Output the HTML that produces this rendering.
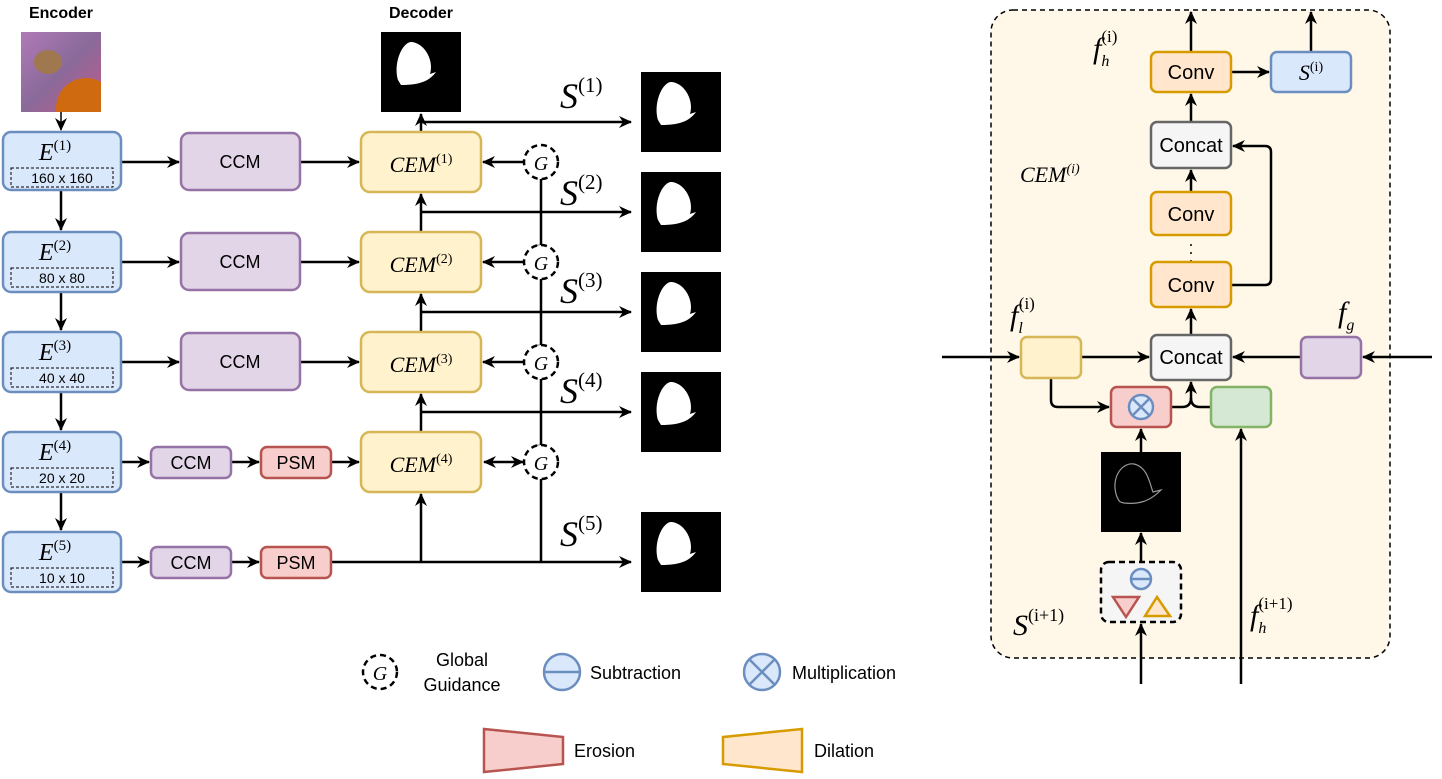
<!DOCTYPE html>
<html><head><meta charset="utf-8"><style>
body{margin:0;background:#fff}
svg text{font-family:"Liberation Sans",sans-serif}
svg text.m, svg .m text{font-family:"Liberation Serif",serif;font-style:italic}
svg tspan.n{font-style:normal}
</style></head><body>
<svg width="1442" height="774" viewBox="0 0 1442 774" xmlns="http://www.w3.org/2000/svg">
<defs>
<marker id="a" markerWidth="13" markerHeight="12" refX="12" refY="6" orient="auto" markerUnits="userSpaceOnUse"><path d="M0,0 L13,6 L0,12 L4,6z" fill="#000"/></marker>
<marker id="b" markerWidth="13" markerHeight="12" refX="1" refY="6" orient="auto" markerUnits="userSpaceOnUse"><path d="M13,0 L0,6 L13,12 L9,6z" fill="#000"/></marker>
<linearGradient id="fl" x1="0" y1="0" x2="1" y2="1"><stop offset="0" stop-color="#b07ab8"/><stop offset="0.5" stop-color="#8a6a9a"/><stop offset="1" stop-color="#c05a8a"/></linearGradient>
<clipPath id="cp"><rect x="21" y="32" width="80" height="80"/></clipPath>
</defs>
<g stroke="#000" stroke-width="2.5" fill="none">
<line x1="61" y1="112" x2="61" y2="130" marker-end="url(#a)" stroke-width="1.5"/>
<line x1="61" y1="190" x2="61" y2="230" marker-end="url(#a)"/>
<line x1="61" y1="292" x2="61" y2="330" marker-end="url(#a)"/>
<line x1="61" y1="392" x2="61" y2="430" marker-end="url(#a)"/>
<line x1="61" y1="492" x2="61" y2="530" marker-end="url(#a)"/>
<line x1="121" y1="162" x2="179" y2="162" marker-end="url(#a)"/>
<line x1="121" y1="262" x2="179" y2="262" marker-end="url(#a)"/>
<line x1="121" y1="362" x2="179" y2="362" marker-end="url(#a)"/>
<line x1="121" y1="462" x2="149" y2="462" marker-end="url(#a)"/>
<line x1="121" y1="562" x2="149" y2="562" marker-end="url(#a)"/>
<line x1="300" y1="162" x2="359" y2="162" marker-end="url(#a)"/>
<line x1="300" y1="262" x2="359" y2="262" marker-end="url(#a)"/>
<line x1="300" y1="362" x2="359" y2="362" marker-end="url(#a)"/>
<line x1="231" y1="462" x2="259" y2="462" marker-end="url(#a)"/>
<line x1="231" y1="562" x2="259" y2="562" marker-end="url(#a)"/>
<line x1="331" y1="462" x2="359" y2="462" marker-end="url(#a)"/>
<line x1="421" y1="132" x2="421" y2="114" marker-end="url(#a)"/>
<line x1="421" y1="232" x2="421" y2="194" marker-end="url(#a)"/>
<line x1="421" y1="332" x2="421" y2="294" marker-end="url(#a)"/>
<line x1="421" y1="432" x2="421" y2="394" marker-end="url(#a)"/>
<line x1="421" y1="562" x2="421" y2="494" marker-end="url(#a)"/>
<line x1="421" y1="122" x2="631" y2="122" marker-end="url(#a)"/>
<line x1="421" y1="212" x2="631" y2="212" marker-end="url(#a)"/>
<line x1="421" y1="312" x2="631" y2="312" marker-end="url(#a)"/>
<line x1="421" y1="412" x2="631" y2="412" marker-end="url(#a)"/>
<line x1="331" y1="562" x2="631" y2="562" marker-end="url(#a)"/>
<line x1="541" y1="178" x2="541" y2="246"/>
<line x1="541" y1="278" x2="541" y2="346"/>
<line x1="541" y1="378" x2="541" y2="446"/>
<line x1="541" y1="478" x2="541" y2="562"/>
<line x1="535" y1="246" x2="547" y2="246"/><line x1="535" y1="346" x2="547" y2="346"/><line x1="535" y1="446" x2="547" y2="446"/>
<line x1="524" y1="162" x2="483" y2="162" marker-end="url(#a)"/>
<line x1="524" y1="262" x2="483" y2="262" marker-end="url(#a)"/>
<line x1="524" y1="362" x2="483" y2="362" marker-end="url(#a)"/>
<line x1="484" y1="462" x2="523" y2="462" marker-end="url(#a)" marker-start="url(#b)"/>
</g>
<g clip-path="url(#cp)">
<rect x="21" y="32" width="80" height="80" fill="url(#fl)"/>
<circle cx="86" cy="108" r="30" fill="#d06a10"/>
<ellipse cx="48" cy="62" rx="14" ry="12" fill="#a07850"/>
</g>
<g fill="#000">
<rect x="381" y="32" width="80" height="80"/>
<rect x="641" y="72" width="80" height="80"/>
<rect x="641" y="172" width="80" height="80"/>
<rect x="641" y="272" width="80" height="80"/>
<rect x="641" y="372" width="80" height="80"/>
<rect x="641" y="512" width="80" height="80"/>
</g>
<g fill="#fff">
<path id="bf" d="M398,80 C393,62 403,41 412,42 C426,44 434,62 430,74 L436,72 C430,80 422,85 401,85z"/>
<use href="#bf" x="260" y="40"/><use href="#bf" x="260" y="140"/><use href="#bf" x="260" y="240"/><use href="#bf" x="260" y="340"/><use href="#bf" x="260" y="480"/>
</g>
<g stroke-width="2.5">
<g fill="#dae8fc" stroke="#6c8ebf">
<rect x="3" y="132" width="118" height="58" rx="8"/><rect x="3" y="232" width="118" height="60" rx="8"/><rect x="3" y="332" width="118" height="60" rx="8"/><rect x="3" y="432" width="118" height="60" rx="8"/><rect x="3" y="532" width="118" height="60" rx="8"/>
</g>
<g fill="none" stroke="#000" stroke-width="1" stroke-dasharray="3,2">
<rect x="11" y="168" width="102" height="19"/><rect x="11" y="268" width="102" height="19"/><rect x="11" y="368" width="102" height="19"/><rect x="11" y="468" width="102" height="19"/><rect x="11" y="568" width="102" height="19"/>
</g>
<g fill="#e1d5e7" stroke="#9673a6">
<rect x="181" y="133" width="119" height="57" rx="8"/><rect x="181" y="233" width="119" height="57" rx="8"/><rect x="181" y="333" width="119" height="57" rx="8"/>
<rect x="151" y="447" width="80" height="31" rx="6"/><rect x="151" y="547" width="80" height="31" rx="6"/>
</g>
<g fill="#f8cecc" stroke="#b85450"><rect x="261" y="447" width="70" height="31" rx="6"/><rect x="261" y="547" width="70" height="31" rx="6"/></g>
<g fill="#fff2cc" stroke="#d6b656">
<rect x="361" y="132" width="120" height="60" rx="9"/><rect x="361" y="232" width="120" height="60" rx="9"/><rect x="361" y="332" width="120" height="60" rx="9"/><rect x="361" y="432" width="120" height="60" rx="9"/>
</g>
<g fill="#fff" stroke="#000" stroke-dasharray="6,4">
<circle cx="541" cy="162" r="17"/><circle cx="541" cy="262" r="17"/><circle cx="541" cy="362" r="17"/><circle cx="541" cy="462" r="17"/>
</g>
</g>
<g font-size="18" text-anchor="middle">
<text x="240" y="168">CCM</text><text x="240" y="268">CCM</text><text x="240" y="368">CCM</text><text x="191" y="469">CCM</text><text x="191" y="569">CCM</text>
<text x="296" y="469">PSM</text><text x="296" y="569">PSM</text>
</g>
<g font-size="14" text-anchor="middle">
<text x="62" y="183">160 x 160</text><text x="62" y="283">80 x 80</text><text x="62" y="383">40 x 40</text><text x="62" y="483">20 x 20</text><text x="62" y="583">10 x 10</text>
</g>
<g font-size="16" font-weight="bold" text-anchor="middle"><text x="61" y="18">Encoder</text><text x="421" y="18">Decoder</text></g>
<g class="m" font-size="24" text-anchor="middle">
<text x="55" y="160">E<tspan class="n" font-size="15" dy="-10">(1)</tspan></text>
<text x="55" y="260">E<tspan class="n" font-size="15" dy="-10">(2)</tspan></text>
<text x="55" y="360">E<tspan class="n" font-size="15" dy="-10">(3)</tspan></text>
<text x="55" y="460">E<tspan class="n" font-size="15" dy="-10">(4)</tspan></text>
<text x="55" y="560">E<tspan class="n" font-size="15" dy="-10">(5)</tspan></text>
</g>
<g class="m" font-size="22" text-anchor="middle">
<text x="421" y="172">CEM<tspan class="n" font-size="14" dy="-9">(1)</tspan></text>
<text x="421" y="272">CEM<tspan class="n" font-size="14" dy="-9">(2)</tspan></text>
<text x="421" y="372">CEM<tspan class="n" font-size="14" dy="-9">(3)</tspan></text>
<text x="421" y="472">CEM<tspan class="n" font-size="14" dy="-9">(4)</tspan></text>
<text x="541" y="170" font-size="20">G</text><text x="541" y="270" font-size="20">G</text><text x="541" y="370" font-size="20">G</text><text x="541" y="470" font-size="20">G</text>
</g>
<g class="m" font-size="36">
<text x="560" y="108">S<tspan class="n" font-size="21" dy="-16">(1)</tspan></text>
<text x="560" y="205">S<tspan class="n" font-size="21" dy="-16">(2)</tspan></text>
<text x="560" y="303">S<tspan class="n" font-size="21" dy="-16">(3)</tspan></text>
<text x="560" y="403">S<tspan class="n" font-size="21" dy="-16">(4)</tspan></text>
<text x="560" y="546">S<tspan class="n" font-size="21" dy="-16">(5)</tspan></text>
</g>
<circle cx="380" cy="672" r="17" fill="#fff" stroke="#000" stroke-width="2.5" stroke-dasharray="6,4"/>
<text class="m" x="380" y="680" font-size="20" text-anchor="middle">G</text>
<text x="462" y="666" font-size="18" text-anchor="middle">Global</text><text x="462" y="691" font-size="18" text-anchor="middle">Guidance</text>
<circle cx="562" cy="672" r="18" fill="#dae8fc" stroke="#6c8ebf" stroke-width="2.5"/><line x1="544" y1="672" x2="580" y2="672" stroke="#6c8ebf" stroke-width="2.5"/>
<text x="590" y="679" font-size="18">Subtraction</text>
<circle cx="762" cy="672" r="18" fill="#dae8fc" stroke="#6c8ebf" stroke-width="2.5"/><path d="M749,659 L775,685 M775,659 L749,685" stroke="#6c8ebf" stroke-width="2.5"/>
<text x="792" y="679" font-size="18">Multiplication</text>
<path d="M484,729 L563,737 L563,764 L484,772z" fill="#f8cecc" stroke="#b85450" stroke-width="2.5"/>
<text x="574" y="757" font-size="18">Erosion</text>
<path d="M723,737 L802,729 L802,772 L723,764z" fill="#ffe6cc" stroke="#d79b00" stroke-width="2.5"/>
<text x="814" y="757" font-size="18">Dilation</text>
<rect x="991" y="10" width="399" height="648" rx="22" fill="#fff8e8" stroke="#000" stroke-width="1.5" stroke-dasharray="5,4"/>
<g stroke="#000" stroke-width="2.5" fill="none">
<line x1="1191" y1="52" x2="1191" y2="12" marker-end="url(#a)"/>
<line x1="1311" y1="52" x2="1311" y2="12" marker-end="url(#a)"/>
<line x1="1231" y1="72" x2="1269" y2="72" marker-end="url(#a)"/>
<line x1="1191" y1="122" x2="1191" y2="94" marker-end="url(#a)"/>
<line x1="1191" y1="192" x2="1191" y2="170" marker-end="url(#a)"/>
<line x1="1191" y1="262" x2="1191" y2="240" stroke-width="1.5" stroke-dasharray="2,6"/>
<line x1="1191" y1="335" x2="1191" y2="309" marker-end="url(#a)"/>
<path d="M1231,285 L1265,285 Q1271,285 1271,279 L1271,152 Q1271,146 1265,146 L1233,146" marker-end="url(#a)"/>
<line x1="942" y1="357" x2="1019" y2="357" marker-end="url(#a)"/>
<line x1="1081" y1="357" x2="1149" y2="357" marker-end="url(#a)"/>
<line x1="1301" y1="357" x2="1233" y2="357" marker-end="url(#a)"/>
<line x1="1432" y1="357" x2="1363" y2="357" marker-end="url(#a)"/>
<path d="M1051,378 L1051,400 Q1051,407 1058,407 L1109,407" marker-end="url(#a)"/>
<path d="M1171,407 L1182,407 Q1191,407 1191,398 L1191,382" marker-end="url(#a)"/>
<path d="M1211,407 L1200,407 Q1191,407 1191,398"/>
<line x1="1141" y1="452" x2="1141" y2="429" marker-end="url(#a)"/>
<line x1="1141" y1="562" x2="1141" y2="533" marker-end="url(#a)"/>
<line x1="1141" y1="684" x2="1141" y2="624" marker-end="url(#a)"/>
<line x1="1241" y1="684" x2="1241" y2="429" marker-end="url(#a)"/>
</g>
<g stroke-width="2.5">
<rect x="1151" y="52" width="80" height="40" rx="6" fill="#ffe6cc" stroke="#d79b00"/>
<rect x="1271" y="52" width="80" height="40" rx="6" fill="#dae8fc" stroke="#6c8ebf"/>
<rect x="1151" y="122" width="80" height="46" rx="6" fill="#f5f5f5" stroke="#666"/>
<rect x="1151" y="192" width="80" height="43" rx="6" fill="#ffe6cc" stroke="#d79b00"/>
<rect x="1151" y="262" width="80" height="45" rx="6" fill="#ffe6cc" stroke="#d79b00"/>
<rect x="1151" y="335" width="80" height="45" rx="6" fill="#f5f5f5" stroke="#666"/>
<rect x="1021" y="337" width="60" height="41" rx="6" fill="#fff2cc" stroke="#d6b656"/>
<rect x="1301" y="337" width="60" height="41" rx="6" fill="#e1d5e7" stroke="#9673a6"/>
<rect x="1111" y="387" width="60" height="40" rx="6" fill="#f8cecc" stroke="#b85450"/>
<rect x="1211" y="387" width="60" height="40" rx="6" fill="#d5e8d4" stroke="#82b366"/>
<circle cx="1141" cy="407" r="12" fill="#dae8fc" stroke="#6c8ebf"/>
<path d="M1133,399 L1149,415 M1149,399 L1133,415" stroke="#6c8ebf"/>
<rect x="1101" y="562" width="80" height="60" rx="8" fill="#f5f5f5" stroke="#000" stroke-dasharray="6,4"/>
<circle cx="1141" cy="579" r="10" fill="#dae8fc" stroke="#6c8ebf"/><line x1="1131" y1="579" x2="1151" y2="579" stroke="#6c8ebf"/>
<path d="M1113,597 L1139,597 L1126,617z" fill="#f8cecc" stroke="#b85450"/>
<path d="M1145,616 L1170,616 L1157,597z" fill="#ffe6cc" stroke="#d79b00"/>
</g>
<rect x="1101" y="452" width="80" height="80" fill="#000"/>
<path d="M1117,497 C1110,478 1122,462 1134,464 C1148,467 1150,485 1153,492 L1161,490 C1152,499 1142,505 1124,503 C1118,502 1119,500 1117,497z" fill="none" stroke="#999" stroke-width="1.2"/>
<g font-size="20" text-anchor="middle">
<text x="1191" y="79">Conv</text><text x="1191" y="152">Concat</text><text x="1191" y="221">Conv</text><text x="1191" y="292">Conv</text><text x="1191" y="364">Concat</text>
</g>
<text class="m" x="1311" y="80" font-size="22" text-anchor="middle">S<tspan class="n" font-size="14" dy="-9">(i)</tspan></text>
<text class="m" x="1020" y="182" font-size="22">CEM<tspan font-size="14" dy="-9">(i)</tspan></text>
<g class="m" font-size="30">
<text x="1093" y="58">f<tspan font-size="16" dy="8">h</tspan><tspan class="n" font-size="17" dx="-8" dy="-24">(i)</tspan></text>
<text x="1010" y="325">f<tspan font-size="16" dy="8">l</tspan><tspan class="n" font-size="17" dx="-4" dy="-24">(i)</tspan></text>
<text x="1338" y="322">f<tspan font-size="16" dy="8">g</tspan></text>
<text x="1013" y="635">S<tspan class="n" font-size="18" dy="-14">(i+1)</tspan></text>
<text x="1250" y="625">f<tspan font-size="16" dy="8">h</tspan><tspan class="n" font-size="17" dx="-8" dy="-24">(i+1)</tspan></text>
</g>
</svg>
</body></html>
